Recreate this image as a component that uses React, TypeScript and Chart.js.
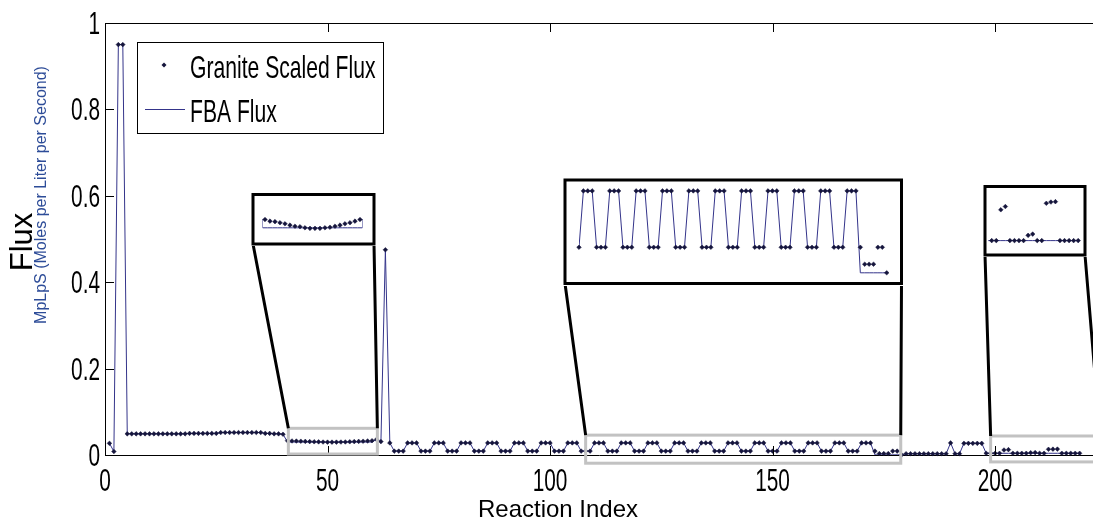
import React, { useEffect, useRef } from "react";
import { Chart, registerables } from "chart.js";

Chart.register(...registerables);

// ---------------- data (reaction index 1 .. 219) ----------------
const GRANITE_SCALED_FLUX: number[] = [
  0.027, 0.008, 0.950, 0.950, 0.049, 0.049, 0.049, 0.049, 0.049, 0.049, // 1-10
  0.049, 0.049, 0.049, 0.049, 0.049, 0.049, 0.049, 0.049, 0.050, 0.050, // 11-20
  0.050, 0.050, 0.050, 0.050, 0.050, 0.052, 0.052, 0.052, 0.052, 0.052, // 21-30
  0.052, 0.052, 0.052, 0.052, 0.052, 0.050, 0.050, 0.049, 0.049, 0.048, // 31-40
  0.0331, 0.0325, 0.0323, 0.0319, 0.0315, 0.0310, 0.0306, 0.0304, 0.0300, 0.0298, // 41-50
  0.0298, 0.0298, 0.0300, 0.0302, 0.0306, 0.0310, 0.0315, 0.0319, 0.0325, 0.0331, // 51-60
  0.036, 0.031, 0.475, 0.028, 0.009, 0.009, 0.009, 0.028, 0.028, 0.028, // 61-70
  0.009, 0.009, 0.009, 0.028, 0.028, 0.028, 0.009, 0.009, 0.009, 0.028, // 71-80
  0.028, 0.028, 0.009, 0.009, 0.009, 0.028, 0.028, 0.028, 0.009, 0.009, // 81-90
  0.009, 0.028, 0.028, 0.028, 0.009, 0.009, 0.009, 0.028, 0.028, 0.028, // 91-100
  0.009, 0.009, 0.009, 0.028, 0.028, 0.028, 0.009, 0.009, 0.009, 0.028, // 101-110
  0.028, 0.028, 0.009, 0.009, 0.009, 0.028, 0.028, 0.028, 0.009, 0.009, // 111-120
  0.009, 0.028, 0.028, 0.028, 0.009, 0.009, 0.009, 0.028, 0.028, 0.028, // 121-130
  0.009, 0.009, 0.009, 0.028, 0.028, 0.028, 0.009, 0.009, 0.009, 0.028, // 131-140
  0.028, 0.028, 0.009, 0.009, 0.009, 0.028, 0.028, 0.028, 0.009, 0.009, // 141-150
  0.009, 0.028, 0.028, 0.028, 0.009, 0.009, 0.009, 0.028, 0.028, 0.028, // 151-160
  0.009, 0.009, 0.009, 0.028, 0.028, 0.028, 0.009, 0.009, 0.009, 0.028, // 161-170
  0.028, 0.028, 0.009, 0.0033, 0.0033, 0.0033, 0.009, 0.009, 0.0004, 0.003, // 171-180
  0.003, 0.003, 0.003, 0.003, 0.003, 0.003, 0.003, 0.003, 0.003, 0.028, // 181-190
  0.003, 0.003, 0.027, 0.027, 0.027, 0.027, 0.027, 0.004, 0.004, 0.004, // 191-200
  0.004, 0.0116, 0.0124, 0.004, 0.004, 0.004, 0.004, 0.0053, 0.0056, 0.004, // 201-210
  0.004, 0.0132, 0.0135, 0.0136, 0.004, 0.004, 0.004, 0.004, 0.004, // 211-219
];

const FBA_FLUX: number[] = [
  0.027, 0.008, 0.950, 0.950, 0.049, 0.049, 0.049, 0.049, 0.049, 0.049, // 1-10
  0.049, 0.049, 0.049, 0.049, 0.049, 0.049, 0.049, 0.049, 0.050, 0.050, // 11-20
  0.050, 0.050, 0.050, 0.050, 0.050, 0.052, 0.052, 0.052, 0.052, 0.052, // 21-30
  0.052, 0.052, 0.052, 0.052, 0.052, 0.050, 0.050, 0.049, 0.049, 0.048, // 31-40
  0.030, 0.030, 0.030, 0.030, 0.030, 0.030, 0.030, 0.030, 0.030, 0.030, // 41-50
  0.030, 0.030, 0.030, 0.030, 0.030, 0.030, 0.030, 0.030, 0.030, 0.030, // 51-60
  0.036, 0.031, 0.475, 0.028, 0.009, 0.009, 0.009, 0.028, 0.028, 0.028, // 61-70
  0.009, 0.009, 0.009, 0.028, 0.028, 0.028, 0.009, 0.009, 0.009, 0.028, // 71-80
  0.028, 0.028, 0.009, 0.009, 0.009, 0.028, 0.028, 0.028, 0.009, 0.009, // 81-90
  0.009, 0.028, 0.028, 0.028, 0.009, 0.009, 0.009, 0.028, 0.028, 0.028, // 91-100
  0.009, 0.009, 0.009, 0.028, 0.028, 0.028, 0.009, 0.009, 0.009, 0.028, // 101-110
  0.028, 0.028, 0.009, 0.009, 0.009, 0.028, 0.028, 0.028, 0.009, 0.009, // 111-120
  0.009, 0.028, 0.028, 0.028, 0.009, 0.009, 0.009, 0.028, 0.028, 0.028, // 121-130
  0.009, 0.009, 0.009, 0.028, 0.028, 0.028, 0.009, 0.009, 0.009, 0.028, // 131-140
  0.028, 0.028, 0.009, 0.009, 0.009, 0.028, 0.028, 0.028, 0.009, 0.009, // 141-150
  0.009, 0.028, 0.028, 0.028, 0.009, 0.009, 0.009, 0.028, 0.028, 0.028, // 151-160
  0.009, 0.009, 0.009, 0.028, 0.028, 0.028, 0.009, 0.009, 0.009, 0.028, // 161-170
  0.028, 0.028, 0.0004, 0.0004, 0.0004, 0.0004, 0.0004, 0.0004, 0.0004, 0.003, // 171-180
  0.003, 0.003, 0.003, 0.003, 0.003, 0.003, 0.003, 0.003, 0.003, 0.028, // 181-190
  0.003, 0.003, 0.027, 0.027, 0.027, 0.027, 0.027, 0.004, 0.004, 0.004, // 191-200
  0.004, 0.004, 0.004, 0.004, 0.004, 0.004, 0.004, 0.004, 0.004, 0.004, // 201-210
  0.004, 0.004, 0.004, 0.004, 0.004, 0.004, 0.004, 0.004, 0.004, // 211-219
];

const SERIES_LABELS = ["Granite Scaled Flux", "FBA Flux"];
const X_TICKS = [0, 50, 100, 150, 200];
const X_TICK_LABELS = ["0", "50", "100", "150", "200"];
const Y_TICKS = [0, 0.2, 0.4, 0.6, 0.8, 1];
const Y_TICK_LABELS = ["0", "0.2", "0.4", "0.6", "0.8", "1"];
const X_TITLE = "Reaction Index";
const Y_TITLE = "Flux";
const Y_SUBTITLE = "MpLpS (Moles per Liter per Second)";

// zoomed windows: reaction index ranges shown in each inset, and the grey
// selection box (index / flux units) drawn on the main axes
const ZOOM_POINTS: [number, number][] = [[41, 60], [109, 179], [200, 219]];
const ZOOM_LINES: [number, number][] = [[40, 61], [108, 180], [199, 219]];
const ZOOM_X_RANGE: [number, number][] = [[40.5, 60.5], [109, 179], [199.25, 219.4]];
const ZOOM_Y_RANGE: [number, number][] = [[0.0243, 0.0333], [-0.0027, 0.031], [0.00082, 0.01697]];
const ZOOM_BOX: [number, number, number, number][] = [
  [41.2, 61.2, 0.0023, 0.0618],
  [108, 178.8, -0.019, 0.046],
  [199, 223.6, -0.016, 0.044],
];

// ---------------- layout (pixels) ----------------
const W = 1093;
const H = 525;
const INSET_LAYOUT = [
  { box: { l: 253, t: 194.5, r: 374, b: 244 }, axes: { l: 262.5, t: 219, r: 362.5, b: 243 }, stepped: "middle" as const },
  { box: { l: 565, t: 180, r: 901.5, b: 283.5 }, axes: { l: 579, t: 182, r: 886.7, b: 282 }, stepped: false as const },
  { box: { l: 985, t: 186.5, r: 1085, b: 255 }, axes: { l: 988.3, t: 188, r: 1080, b: 253.5 }, stepped: false as const },
];

const POINT_COLOR = "#15153c";
const LINE_COLOR = "#34348a";
const TICK_FONT = "'Liberation Sans', Arial, sans-serif";

function pts(arr: number[], from: number, to: number) {
  const out: { x: number; y: number }[] = [];
  for (let i = from; i <= to; i++) out.push({ x: i, y: arr[i - 1] });
  return out;
}

function condensed(ctx: CanvasRenderingContext2D, text: string, x: number, y: number, align: CanvasTextAlign, sx = 0.65) {
  ctx.save();
  ctx.translate(x, y);
  ctx.scale(sx, 1);
  ctx.textAlign = align;
  ctx.textBaseline = "alphabetic";
  ctx.fillText(text, 0, 0);
  ctx.restore();
}

function insetCanvasRect(i: number) {
  const b = INSET_LAYOUT[i].box;
  const left = Math.floor(b.l - 2);
  const top = Math.floor(b.t - 2);
  const right = Math.ceil(b.r + 2);
  const bottom = Math.ceil(b.b + 2);
  return { left, top, width: right - left, height: bottom - top };
}

export default function App() {
  const mainRef = useRef<HTMLCanvasElement | null>(null);
  const insetRefs = useRef<(HTMLCanvasElement | null)[]>([]);

  useEffect(() => {
    const charts: Chart[] = [];
    const main = mainRef.current!;

    const decor = {
      id: "decor",
      afterDraw(chart: any) {
        const ctx: CanvasRenderingContext2D = chart.ctx;
        const { left, top, bottom } = chart.chartArea;
        const xs = chart.scales.x;
        const ys = chart.scales.y;
        ctx.save();
        // top border
        ctx.strokeStyle = "#000";
        ctx.lineWidth = 1;
        ctx.beginPath();
        ctx.moveTo(left, top + 0.5);
        ctx.lineTo(W, top + 0.5);
        ctx.stroke();
        // inward ticks
        ctx.beginPath();
        X_TICKS.forEach((v) => {
          const px = Math.round(xs.getPixelForValue(v)) + 0.5;
          if (v === 0) return;
          ctx.moveTo(px, bottom);
          ctx.lineTo(px, bottom - 9);
          ctx.moveTo(px, top);
          ctx.lineTo(px, top + 9);
        });
        Y_TICKS.forEach((v) => {
          if (v === 0 || v === 1) return;
          const py = Math.round(ys.getPixelForValue(v)) + 0.5;
          ctx.moveTo(left, py);
          ctx.lineTo(left + 9, py);
        });
        ctx.stroke();
        // tick labels
        ctx.fillStyle = "#000";
        ctx.font = `32px ${TICK_FONT}`;
        X_TICKS.forEach((v, i) => {
          condensed(ctx, X_TICK_LABELS[i], xs.getPixelForValue(v), 491, "center");
        });
        Y_TICKS.forEach((v, i) => {
          condensed(ctx, Y_TICK_LABELS[i], 100, ys.getPixelForValue(v) + 11, "right");
        });
        // axis titles
        ctx.font = `24px ${TICK_FONT}`;
        ctx.textAlign = "center";
        ctx.fillText(X_TITLE, 558, 517);
        ctx.save();
        ctx.translate(32, 242);
        ctx.rotate(-Math.PI / 2);
        ctx.textAlign = "center";
        ctx.font = `31px ${TICK_FONT}`;
        ctx.fillText(Y_TITLE, 0, 0);
        ctx.restore();
        ctx.save();
        ctx.translate(45.5, 195);
        ctx.rotate(-Math.PI / 2);
        ctx.textAlign = "center";
        ctx.font = `16px ${TICK_FONT}`;
        ctx.fillStyle = "#2d4c98";
        ctx.fillText(Y_SUBTITLE, 0, 0);
        ctx.restore();

        // grey zoom boxes + connectors
        ZOOM_BOX.forEach((zb, i) => {
          const x0 = xs.getPixelForValue(zb[0]);
          const x1 = xs.getPixelForValue(zb[1]);
          const y0 = ys.getPixelForValue(zb[2]);
          const y1 = ys.getPixelForValue(zb[3]);
          ctx.strokeStyle = "#c2c2c2";
          ctx.lineWidth = 3;
          ctx.strokeRect(x0, y1, x1 - x0, y0 - y1);
          const b = INSET_LAYOUT[i].box;
          ctx.strokeStyle = "#000";
          ctx.lineWidth = 3;
          ctx.beginPath();
          ctx.moveTo(b.l, b.b);
          ctx.lineTo(x0, y1);
          ctx.moveTo(b.r, b.b);
          ctx.lineTo(x1, y1);
          ctx.stroke();
        });

        // legend
        const lx0 = 137, ly0 = 42, lx1 = 383, ly1 = 133;
        ctx.fillStyle = "#fff";
        ctx.fillRect(lx0, ly0, lx1 - lx0, ly1 - ly0);
        ctx.strokeStyle = "#000";
        ctx.lineWidth = 1;
        ctx.strokeRect(lx0 + 0.5, ly0 + 0.5, lx1 - lx0, ly1 - ly0);
        ctx.fillStyle = POINT_COLOR;
        ctx.beginPath();
        ctx.moveTo(164, 62.5);
        ctx.lineTo(166.5, 65);
        ctx.lineTo(164, 67.5);
        ctx.lineTo(161.5, 65);
        ctx.closePath();
        ctx.fill();
        ctx.strokeStyle = LINE_COLOR;
        ctx.beginPath();
        ctx.moveTo(145, 109.5);
        ctx.lineTo(185, 109.5);
        ctx.stroke();
        ctx.fillStyle = "#000";
        ctx.font = `32px ${TICK_FONT}`;
        condensed(ctx, SERIES_LABELS[0], 190, 78, "left", 0.66);
        condensed(ctx, SERIES_LABELS[1], 190, 122, "left", 0.66);
        ctx.restore();
      },
    };

    const mainChart = new Chart(main, {
      type: "line",
      data: {
        datasets: [
          {
            label: SERIES_LABELS[0],
            data: pts(GRANITE_SCALED_FLUX, 1, GRANITE_SCALED_FLUX.length),
            showLine: false,
            pointStyle: "rectRot",
            pointRadius: 2.3,
            pointBackgroundColor: POINT_COLOR,
            pointBorderColor: POINT_COLOR,
            pointBorderWidth: 0.5,
            clip: false as any,
          },
          {
            label: SERIES_LABELS[1],
            data: pts(FBA_FLUX, 1, FBA_FLUX.length),
            borderColor: LINE_COLOR,
            borderWidth: 1,
            pointRadius: 0,
            tension: 0,
          },
        ],
      },
      options: {
        responsive: false,
        animation: false,
        events: [],
        layout: { autoPadding: false, padding: { top: 23, left: 0, right: 0, bottom: 0 } },
        plugins: { legend: { display: false }, tooltip: { enabled: false } },
        scales: {
          x: {
            type: "linear",
            min: 0,
            max: 222,
            ticks: { display: false, stepSize: 50 },
            grid: { display: false },
            border: { display: true, color: "#000", width: 1 },
            afterFit: (s: any) => {
              s.height = 70;
            },
          },
          y: {
            type: "linear",
            min: 0,
            max: 1,
            ticks: { display: false, stepSize: 0.2 },
            grid: { display: false },
            border: { display: true, color: "#000", width: 1 },
            afterFit: (s: any) => {
              s.width = 105;
            },
          },
        },
      },
      plugins: [decor],
    });
    charts.push(mainChart);

    INSET_LAYOUT.forEach((lay, i) => {
      const cv = insetRefs.current[i];
      if (!cv) return;
      const r = insetCanvasRect(i);
      const frame = {
        id: "frame" + i,
        beforeDraw(chart: any) {
          const c: CanvasRenderingContext2D = chart.ctx;
          c.save();
          c.fillStyle = "#fff";
          c.fillRect(0, 0, r.width, r.height);
          c.restore();
        },
        afterDraw(chart: any) {
          const c: CanvasRenderingContext2D = chart.ctx;
          c.save();
          c.strokeStyle = "#000";
          c.lineWidth = 3;
          c.strokeRect(lay.box.l - r.left, lay.box.t - r.top, lay.box.r - lay.box.l, lay.box.b - lay.box.t);
          c.restore();
        },
      };
      const [pf, pt] = ZOOM_POINTS[i];
      const [lf, lt] = ZOOM_LINES[i];
      const ch = new Chart(cv, {
        type: "line",
        data: {
          datasets: [
            {
              data: pts(GRANITE_SCALED_FLUX, pf, pt),
              showLine: false,
              pointStyle: "rectRot",
              pointRadius: 2.3,
              pointBackgroundColor: POINT_COLOR,
              pointBorderColor: POINT_COLOR,
              pointBorderWidth: 0.5,
              clip: false as any,
            },
            {
              data: pts(FBA_FLUX, lf, lt),
              borderColor: LINE_COLOR,
              borderWidth: 1,
              pointRadius: 0,
              stepped: lay.stepped,
              tension: 0,
            },
          ],
        },
        options: {
          responsive: false,
          animation: false,
          events: [],
          layout: {
            autoPadding: false,
            padding: {
              left: lay.axes.l - r.left,
              right: r.left + r.width - lay.axes.r,
              top: lay.axes.t - r.top,
              bottom: r.top + r.height - lay.axes.b,
            },
          },
          plugins: { legend: { display: false }, tooltip: { enabled: false } },
          scales: {
            x: { type: "linear", display: false, min: ZOOM_X_RANGE[i][0], max: ZOOM_X_RANGE[i][1] },
            y: { type: "linear", display: false, min: ZOOM_Y_RANGE[i][0], max: ZOOM_Y_RANGE[i][1] },
          },
        },
        plugins: [frame],
      });
      charts.push(ch);
    });

    return () => {
      charts.forEach((c) => c.destroy());
    };
  }, []);

  return (
    <div style={{ position: "absolute", left: 0, top: 0, width: W, height: H, background: "#fff", overflow: "hidden" }}>
      <canvas ref={mainRef} width={W} height={H} style={{ position: "absolute", left: 0, top: 0, width: W, height: H }} />
      {INSET_LAYOUT.map((_, i) => {
        const r = insetCanvasRect(i);
        return (
          <canvas
            key={i}
            ref={(el) => {
              insetRefs.current[i] = el;
            }}
            width={r.width}
            height={r.height}
            style={{ position: "absolute", left: r.left, top: r.top, width: r.width, height: r.height }}
          />
        );
      })}
    </div>
  );
}
